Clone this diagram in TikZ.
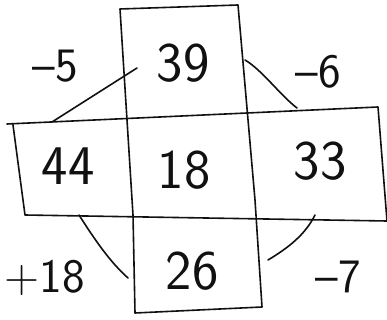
\documentclass[tikz,border=0pt]{standalone}
\usetikzlibrary{calc}
\definecolor{tinta}{HTML}{111111}

\begin{document}
\begin{tikzpicture}[x=1pt, y=-1pt, line cap=round, line join=round, font=\sffamily,
  numero/.style={tinta, inner sep=0pt, font=\sffamily\fontsize{56}{60}\selectfont},
  paso/.style={tinta, inner sep=0pt, font=\sffamily\fontsize{48}{52}\selectfont},
  trazo/.style={tinta, line width=1.6pt}]
  \useasboundingbox (0,0) rectangle (387,320);
  \fill[white] (0,0) rectangle (387,320);

  % Banda vertical y banda horizontal
  \draw[trazo] (120,9) -- (238,5) -- (255,200) -- (262,307) -- (135,313) -- (133,215) -- cycle;
  \draw[trazo] (7,124) -- (378,107) -- (387,221) -- (25,215) -- (13,125);

  % Casillas
  \node[numero] (n39) at (183,63) {39};
  \node[numero] (n44) at (68,166) {44};
  \node[numero] (n18) at (184,170) {18};
  \node[numero] (n33) at (320,161) {33};
  \node[numero] (n26) at (192,271) {26};

  % Saltos entre casillas
  \node[paso] (s5) at (55,66) {--5};
  \node[paso] (s6) at (318,72) {--6};
  \node[paso] (s18) at (45,278) {+18};
  \node[paso] (s7) at (338,277) {--7};

  % Extremos de las flechas a mano
  \coordinate (a39i) at (137,68);
  \coordinate (a44) at (52,122);
  \coordinate (a39d) at (245,60);
  \coordinate (a33s) at (297,108);
  \coordinate (a44b) at (79,215);
  \coordinate (a26i) at (128,278);
  \coordinate (a33b) at (315,215);
  \coordinate (a26d) at (268,260);

  \draw[trazo] (a39i) -- (a44);
  \draw[trazo] (a39d) .. controls (262,70) and (280,95) .. (a33s);
  \draw[trazo] (a44b) .. controls (95,240) and (110,262) .. (a26i);
  \draw[trazo] (a33b) .. controls (305,235) and (288,248) .. (a26d);
\end{tikzpicture}
\end{document}
